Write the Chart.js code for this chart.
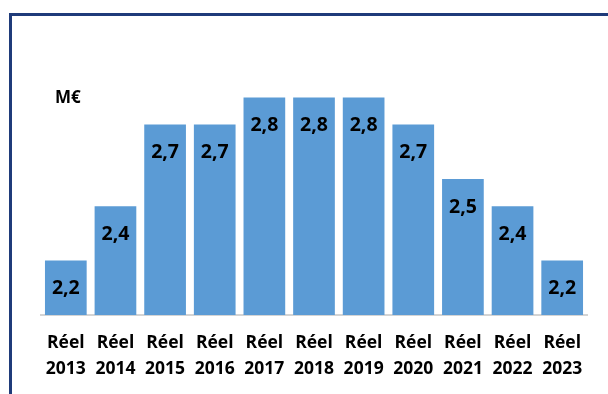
<!DOCTYPE html>
<html>
<head>
<meta charset="utf-8">
<script src="https://cdn.jsdelivr.net/npm/chart.js@4"></script>
<style>
  html, body { margin: 0; padding: 0; background: #fff; }
  #wrap { position: relative; width: 608px; height: 394px; overflow: hidden; }
  #frame { position: absolute; left: 9px; top: 13px; right: -10px; bottom: -10px;
           border-left: 3px solid #1F3B7A; border-top: 3px solid #1F3B7A; pointer-events: none; }
  canvas { position: absolute; left: 0; top: 0; }
</style>
</head>
<body>
<div id="wrap">
  <canvas id="c" width="608" height="394"></canvas>
  <div id="frame"></div>
</div>
<script>
// Budget réalisé par année, en millions d'euros
const years = ['2013', '2014', '2015', '2016', '2017', '2018', '2019', '2020', '2021', '2022', '2023'];
const categories = years.map(y => ['Réel', y]);
const values = [2.2, 2.4, 2.7, 2.7, 2.8, 2.8, 2.8, 2.7, 2.5, 2.4, 2.2];
const unitLabel = 'M€';

const FONT = '"Open Sans", Lato, sans-serif';

// Value written inside each bar, near its top
const barValues = {
  id: 'barValues',
  afterDatasetsDraw(chart) {
    const ctx = chart.ctx;
    const meta = chart.getDatasetMeta(0);
    ctx.save();
    ctx.font = 'bold 19.5px ' + FONT;
    ctx.fillStyle = '#000';
    ctx.textAlign = 'center';
    ctx.textBaseline = 'middle';
    meta.data.forEach((bar, i) => {
      const v = chart.data.datasets[0].data[i];
      ctx.fillText(v.toFixed(1).replace('.', ','), bar.x, bar.y + 28);
    });
    ctx.restore();
  }
};

// Unit caption at the upper left of the plot
const unitCaption = {
  id: 'unitCaption',
  afterDraw(chart) {
    const ctx = chart.ctx;
    ctx.save();
    ctx.font = 'bold 17px ' + FONT;
    ctx.fillStyle = '#000';
    ctx.textAlign = 'left';
    ctx.textBaseline = 'middle';
    ctx.fillText(unitLabel, 55, 98);
    ctx.restore();
  }
};

new Chart(document.getElementById('c'), {
  type: 'bar',
  data: {
    labels: categories,
    datasets: [{
      data: values,
      backgroundColor: '#5B9BD5',
      borderWidth: 0,
      barPercentage: 0.84,
      categoryPercentage: 1.0
    }]
  },
  options: {
    responsive: false,
    animation: false,
    events: [],
    layout: { padding: { left: 41, right: 21, top: 43, bottom: 0 } },
    plugins: { legend: { display: false }, tooltip: { enabled: false } },
    scales: {
      y: {
        display: false,
        min: 2.0,
        max: 3.0
      },
      x: {
        grid: { display: false, drawTicks: false },
        border: { display: true, color: '#D4D4D4', width: 2 },
        ticks: {
          color: '#000',
          font: { family: FONT, size: 17.5, weight: 'bold', lineHeight: 1.5 },
          padding: 15,
          maxRotation: 0,
          autoSkip: false
        },
        afterFit(scale) { scale.height = 79; }
      }
    }
  },
  plugins: [barValues, unitCaption]
});
</script>
</body>
</html>
